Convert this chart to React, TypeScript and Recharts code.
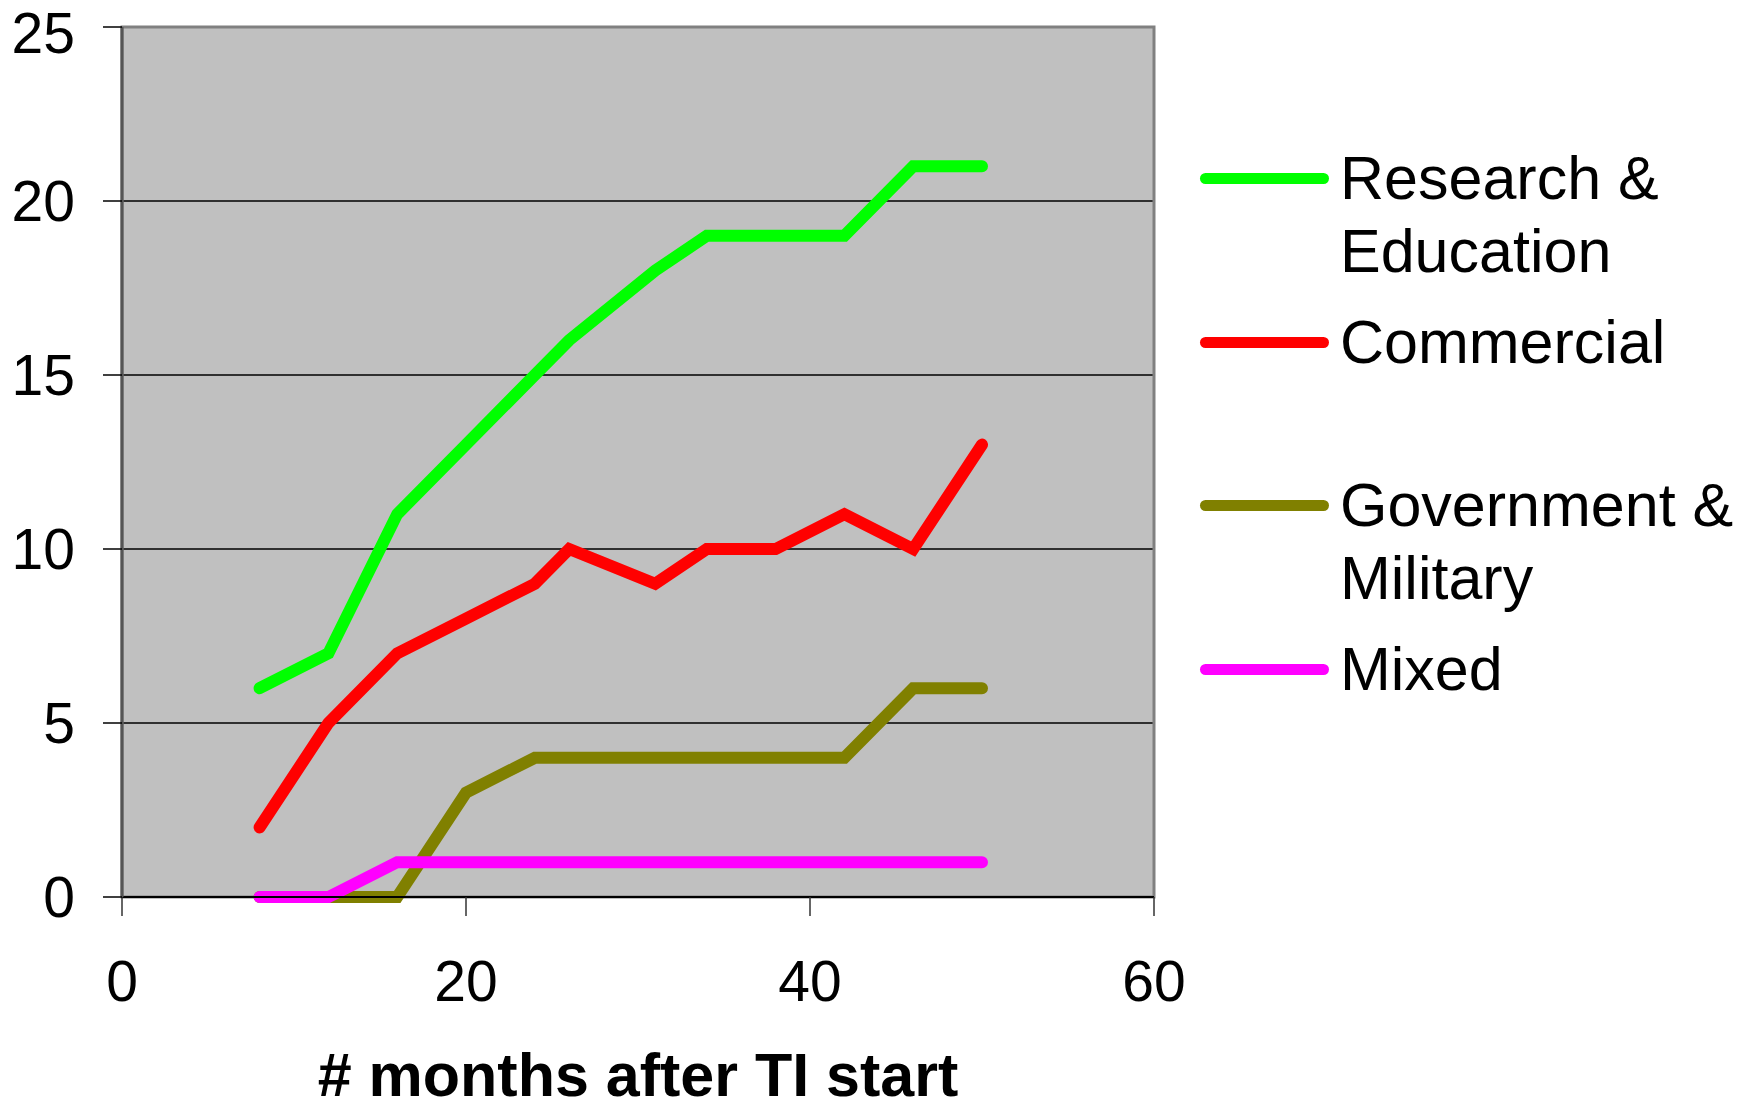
import React from 'react';
import { LineChart, Line, XAxis, YAxis, CartesianGrid, Legend, ReferenceArea } from 'recharts';

const FONT = "'Liberation Sans', Arial, Helvetica, sans-serif";

// months after TI start
const months = [8, 12, 16, 20, 24, 26, 31, 34, 38, 42, 46, 50];
const researchEducation = [6, 7, 11, 13, 15, 16, 18, 19, 19, 19, 21, 21];
const commercial = [2, 5, 7, 8, 9, 10, 9, 10, 10, 11, 10, 13];
const governmentMilitary = [0, 0, 0, 3, 4, 4, 4, 4, 4, 4, 6, 6];
const mixed = [0, 0, 1, 1, 1, 1, 1, 1, 1, 1, 1, 1];

const xTicks = [0, 20, 40, 60];
const yTicks = [0, 5, 10, 15, 20, 25];

const series = [
  { key: 'research', name: 'Research & Education', color: '#00ff00' },
  { key: 'commercial', name: 'Commercial', color: '#ff0000' },
  { key: 'government', name: 'Government & Military', color: '#808000' },
  { key: 'mixed', name: 'Mixed', color: '#ff00ff' },
];

const data = months.map((m, i) => ({
  month: m,
  research: researchEducation[i],
  commercial: commercial[i],
  government: governmentMilitary[i],
  mixed: mixed[i],
}));

const seriesIndex = (name: string) => series.findIndex((s) => s.name === name);

const LegendList = (props: any) => {
  // keep the series order, not alphabetical
  const payload = [...(props.payload || [])].sort((a: any, b: any) => seriesIndex(a.value) - seriesIndex(b.value));
  return (
    <div>
      {payload.map((entry: any) => (
        <div key={entry.value} style={{ display: 'flex', height: 163.5 }}>
          <div
            style={{
              width: 129,
              height: 11,
              borderRadius: 6,
              background: entry.color,
              marginTop: 31,
              flexShrink: 0,
            }}
          />
          <div
            style={{
              marginLeft: 11,
              width: 405,
              fontSize: 61,
              lineHeight: '73px',
              fontFamily: FONT,
              color: '#000',
            }}
          >
            {entry.value}
          </div>
        </div>
      ))}
    </div>
  );
};

const App: React.FC = () => {
  return (
    <div style={{ position: 'absolute', left: 0, top: 0, width: 1745, height: 1109, background: '#fff' }}>
      <LineChart width={1745} height={1109} data={data} margin={{ top: 27, right: 591, bottom: 0, left: 0 }}>
        <CartesianGrid vertical={false} stroke="#000" strokeWidth={1.5} fill="#c0c0c0" fillOpacity={1} />
        <ReferenceArea x1={0} x2={60} y1={0} y2={25} fill="none" stroke="#808080" strokeWidth={3} />
        <XAxis
          dataKey="month"
          type="number"
          domain={[0, 60]}
          ticks={xTicks}
          height={212}
          tickSize={19}
          tickMargin={45}
          axisLine={{ stroke: '#000', strokeWidth: 2 }}
          tickLine={{ stroke: '#333', strokeWidth: 1.5 }}
          tick={{ fontSize: 57, fill: '#000', fontFamily: FONT }}
          label={{
            value: '# months after TI start',
            position: 'insideBottom',
            offset: 13,
            fill: '#000',
            fontSize: 61,
            fontWeight: 'bold',
            fontFamily: FONT,
          }}
        />
        <YAxis
          type="number"
          domain={[0, 25]}
          ticks={yTicks}
          width={122}
          tickSize={19}
          tickMargin={28}
          axisLine={{ stroke: '#555', strokeWidth: 3 }}
          tickLine={{ stroke: '#000', strokeWidth: 1.5 }}
          tick={{ fontSize: 57, fill: '#000', fontFamily: FONT }}
        />
        <Legend
          layout="vertical"
          align="center"
          verticalAlign="middle"
          content={<LegendList />}
          wrapperStyle={{ left: 1200, top: 142, width: 545 }}
        />
        {series.map((s) => (
          <Line
            key={s.key}
            type="linear"
            dataKey={s.key}
            name={s.name}
            stroke={s.color}
            strokeWidth={12}
            strokeLinecap="round"
            dot={false}
            activeDot={false}
            isAnimationActive={false}
          />
        ))}
      </LineChart>
    </div>
  );
};

export default App;
